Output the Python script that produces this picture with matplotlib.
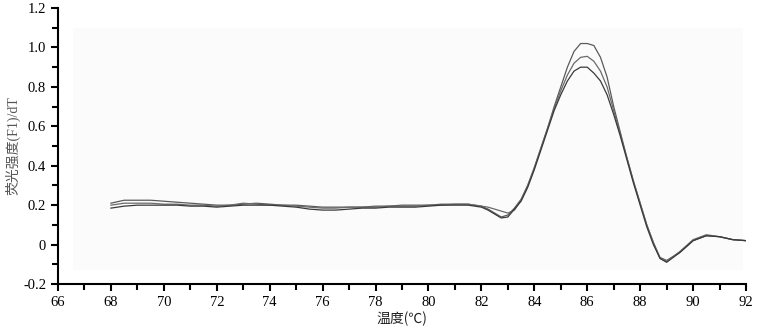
import matplotlib
matplotlib.use("Agg")
import matplotlib.pyplot as plt
from matplotlib.patches import Rectangle
from matplotlib.ticker import MultipleLocator
import numpy as np

# 温度 (℃)
temps = [68, 68.5, 69, 69.5, 70, 70.5, 71, 71.5, 72, 72.5, 73, 73.5, 74, 74.5,
         75, 75.5, 76, 76.5, 77, 77.5, 78, 78.5, 79, 79.5, 80, 80.5, 81, 81.5, 82,
         82.25, 82.5, 82.75, 83, 83.25, 83.5, 83.75, 84, 84.25, 84.5, 84.75, 85,
         85.25, 85.5, 85.75, 86, 86.25, 86.5, 86.75, 87, 87.25, 87.5, 87.75, 88,
         88.25, 88.5, 88.75, 89, 89.25, 89.5, 89.75, 90, 90.5, 91, 91.5, 92]

# 荧光强度 -dF/dT, three replicate curves
curve_a = [0.21, 0.225, 0.225, 0.225, 0.22, 0.215, 0.21, 0.205, 0.20, 0.20, 0.205,
           0.21, 0.205, 0.20, 0.20, 0.195, 0.19, 0.19, 0.19, 0.19, 0.195, 0.195,
           0.20, 0.20, 0.20, 0.205, 0.205, 0.205, 0.195,
           0.18, 0.16, 0.14, 0.15, 0.185, 0.23, 0.30, 0.39, 0.49, 0.59, 0.70, 0.80,
           0.90, 0.98, 1.02, 1.02, 1.01, 0.95, 0.85, 0.70, 0.57, 0.44, 0.32, 0.21,
           0.10, 0.01, -0.07, -0.085, -0.06, -0.04, -0.01, 0.02, 0.045, 0.04, 0.025, 0.02]
curve_b = [0.20, 0.21, 0.21, 0.21, 0.205, 0.205, 0.20, 0.20, 0.195, 0.20, 0.21,
           0.205, 0.20, 0.20, 0.195, 0.19, 0.185, 0.185, 0.19, 0.19, 0.19, 0.195,
           0.195, 0.195, 0.20, 0.20, 0.205, 0.205, 0.195,
           0.19, 0.18, 0.17, 0.16, 0.175, 0.225, 0.30, 0.39, 0.49, 0.59, 0.69, 0.78,
           0.86, 0.92, 0.95, 0.955, 0.93, 0.88, 0.80, 0.68, 0.56, 0.44, 0.32, 0.21,
           0.10, 0.01, -0.065, -0.08, -0.06, -0.035, -0.005, 0.025, 0.05, 0.04, 0.025, 0.02]
curve_c = [0.185, 0.195, 0.20, 0.20, 0.20, 0.20, 0.195, 0.195, 0.19, 0.195, 0.20,
           0.20, 0.20, 0.195, 0.19, 0.18, 0.175, 0.175, 0.18, 0.185, 0.185, 0.19,
           0.19, 0.19, 0.195, 0.20, 0.20, 0.20, 0.19,
           0.175, 0.155, 0.135, 0.14, 0.18, 0.22, 0.29, 0.38, 0.48, 0.58, 0.68, 0.76,
           0.83, 0.88, 0.90, 0.90, 0.87, 0.83, 0.76, 0.66, 0.55, 0.43, 0.31, 0.20,
           0.09, 0.0, -0.07, -0.09, -0.065, -0.04, -0.01, 0.02, 0.045, 0.04, 0.025, 0.02]

fam = ['Liberation Serif', 'Noto Sans CJK SC']
plt.rcParams['font.family'] = fam

fig = plt.figure(figsize=(7.6, 3.35), dpi=100)
ax = fig.add_axes([0.0763, 0.1522, 0.9053, 0.8238])

# faint plotting area background
ax.add_patch(Rectangle((66.57, -0.129), 25.3, 1.227, facecolor='#fbfbfb',
                       edgecolor='none', zorder=0))

for ys, c in zip([curve_a, curve_b, curve_c], ['#5a5a5a', '#6a6a6a', '#3a3a3a']):
    ax.plot(temps, ys, color=c, lw=0.9)

ax.set_xlim(66, 92)
ax.set_ylim(-0.2, 1.2)
ax.xaxis.set_major_locator(MultipleLocator(2))
ax.xaxis.set_minor_locator(MultipleLocator(1))
ax.yaxis.set_minor_locator(MultipleLocator(0.1))
ax.set_yticks(np.arange(-0.2, 1.21, 0.2))
ax.set_yticklabels(['-0.2', '0', '0.2', '0.4', '0.6', '0.8', '1.0', '1.2'])

for s in ['top', 'right']:
    ax.spines[s].set_visible(False)
for s in ['left', 'bottom']:
    ax.spines[s].set_linewidth(1.5)

ax.tick_params(which='major', direction='out', length=5, width=1.5, labelsize=10.5)
ax.tick_params(which='minor', direction='out', length=4, width=1.5)

ax.set_xlabel('温度(℃)', fontsize=10, labelpad=2, color='#222222',
              family=['Noto Sans CJK SC', 'DejaVu Sans'])
ax.set_ylabel('荧光强度(F1)/dT', fontsize=10, labelpad=2, color='#555555')

fig.savefig('out.png', dpi=100)
